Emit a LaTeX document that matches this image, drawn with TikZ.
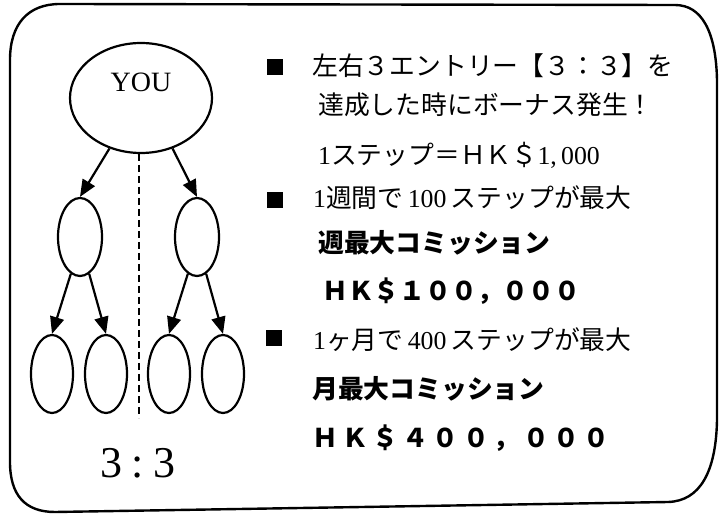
\documentclass[tikz,border=0pt]{standalone}
\usepackage{fontspec}
\setmainfont{Liberation Serif}
\newfontfamily\cjk{Noto Sans CJK JP}
\usetikzlibrary{shapes.geometric,arrows.meta}
\begin{document}
\begin{tikzpicture}[x=1pt,y=-1pt,
  ell/.style={draw,ellipse,line width=2.2pt,inner sep=0pt},
  arr/.style={line width=2.2pt,-{Triangle[length=17pt,width=14pt]}},
  txt/.style={anchor=base west,inner sep=0pt,font=\cjk\fontsize{25.8}{30}\selectfont},
  btxt/.style={anchor=base west,inner sep=0pt,font=\cjk\bfseries\fontsize{25.8}{30}\selectfont},
  bul/.style={fill=black,minimum size=16pt,inner sep=0pt}]
\useasboundingbox (0,0) rectangle (720,518);
% frame
\draw[line width=2.4pt] (60,4) -- (675,5) .. controls (702,5) and (716,32) .. (717,80)
  -- (717,420) .. controls (716,472) and (700,501) .. (668,502)
  -- (55,512) .. controls (25,512) and (10,495) .. (10,462)
  -- (10,60) .. controls (10,24) and (28,4) .. (60,4) -- cycle;
% tree
\node[ell,minimum width=142pt,minimum height=110pt,
  label={[font=\fontsize{28}{30}\selectfont,yshift=16pt]center:YOU}] (you) at (141,98) {};
\node[ell,minimum width=44pt,minimum height=78pt] (m1) at (80,237) {};
\node[ell,minimum width=44pt,minimum height=78pt] (m2) at (197,237) {};
\node[ell,minimum width=42pt,minimum height=78pt] (b1) at (52,374) {};
\node[ell,minimum width=42pt,minimum height=78pt] (b2) at (106,374) {};
\node[ell,minimum width=42pt,minimum height=78pt] (b3) at (169,374) {};
\node[ell,minimum width=42pt,minimum height=78pt] (b4) at (223,374) {};
\draw[arr] (you.-122) -- (m1.north);
\draw[arr] (you.-58) -- (m2.north);
\draw[arr] (m1.-104) -- (b1.north);
\draw[arr] (m1.-76) -- (b2.north);
\draw[arr] (m2.-104) -- (b3.north);
\draw[arr] (m2.-76) -- (b4.north);
\coordinate (dtop) at (139,154);
\coordinate (dbot) at (139,418);
\draw[line width=2pt,dash pattern=on 7pt off 4pt] (dtop) -- (dbot);
\node[anchor=base,inner sep=0pt,font=\fontsize{44}{48}\selectfont] (ratio) at (138,477)
  {3\hspace{9pt}:\hspace{9pt}3};
% bullets
\node[bul] (q1) at (275,67) {};
\node[bul] (q2) at (275,200) {};
\node[bul] (q3) at (274,338) {};
% text
\node[txt] (t1) at (312,76) {左右３エントリー【３：３】を};
\node[txt] (t2) at (318,115) {達成した時にボーナス発生！};
\node[txt] (t3) at (318,165) {{\rmfamily 1}ステップ＝ＨＫ＄{\rmfamily 1,\,000}};
\node[txt] (t4) at (313,208) {{\rmfamily 1}週間で{\rmfamily\,100\,}ステップが最大};
\node[btxt] (t5) at (318,253) {週最大コミッション};
\node[btxt] (t6) at (322,301) {ＨＫ＄１００，０００};
\node[txt] (t7) at (313,350) {{\rmfamily 1}ヶ月で{\rmfamily\,400\,}ステップが最大};
\node[btxt] (t8) at (312,399) {月最大コミッション};
\node[btxt] (t9) at (312,447) {\addfontfeature{LetterSpace=17}ＨＫ＄４００，０００};
\end{tikzpicture}
\end{document}
